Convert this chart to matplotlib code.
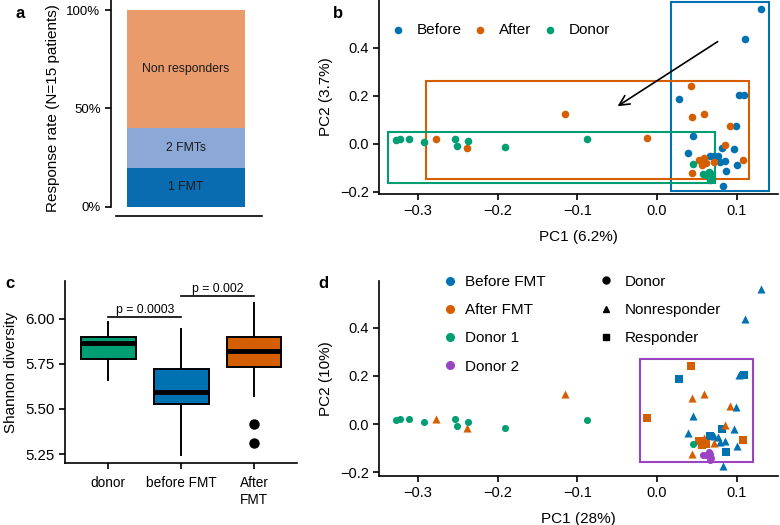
import numpy as np
import matplotlib
matplotlib.use("Agg")
from matplotlib import pyplot as plt
from matplotlib.patches import Rectangle
from matplotlib.lines import Line2D

plt.rcParams['font.family'] = ['Liberation Sans', 'DejaVu Sans']
plt.rcParams['axes.linewidth'] = 1.2
plt.rcParams['xtick.major.width'] = 1.2
plt.rcParams['ytick.major.width'] = 1.2
plt.rcParams['xtick.major.size'] = 4
plt.rcParams['ytick.major.size'] = 4

BLUE = '#0072B2'
ORANGE = '#D55E00'
GREEN = '#009E73'
PURPLE = '#9A44C4'

# --- panel a: response rate
resp_labels = ['1 FMT', '2 FMTs', 'Non responders']
resp_counts = [3, 3, 9]
resp_colors = ['#0A6CB0', '#8BA8D6', '#E99B6C']

# --- panel b/d: PCoA points (PC1, PC2)
before_x = [0.131, 0.110, 0.027, 0.103, 0.109, 0.099, 0.045, 0.039, 0.066,
            0.071, 0.076, 0.081, 0.096, 0.079, 0.085, 0.100, 0.087, 0.083]
before_y = [0.561, 0.435, 0.186, 0.202, 0.204, 0.072, 0.033, -0.038, -0.050,
            -0.050, -0.052, -0.019, -0.021, -0.076, -0.072, -0.090, -0.115, -0.176]
before_resp = ['N', 'N', 'R', 'N', 'R', 'N', 'N', 'N', 'R',
               'N', 'N', 'R', 'N', 'N', 'N', 'N', 'R', 'N']

after_x = [0.0425, 0.044, 0.059, 0.092, 0.085, -0.013, 0.059, 0.052,
           0.056, 0.062, 0.071, 0.108, 0.0435, -0.278, -0.238, -0.116]
after_y = [0.242, 0.110, 0.125, 0.074, -0.004, 0.023, -0.058, -0.070,
           -0.088, -0.082, -0.078, -0.068, -0.123, 0.019, -0.017, 0.125]
after_resp = ['R', 'N', 'N', 'N', 'N', 'R', 'N', 'R',
              'R', 'R', 'N', 'R', 'N', 'N', 'N', 'N']

donor1_x = [-0.3275, -0.3225, -0.311, -0.293, -0.253, -0.2505, -0.2375, -0.191, -0.088, 0.045]
donor1_y = [0.016, 0.021, 0.021, 0.008, 0.019, -0.009, 0.010, -0.015, 0.018, -0.084]

donor2_x = [0.058, 0.062, 0.066, 0.068, 0.065, 0.067]
donor2_y = [-0.128, -0.130, -0.124, -0.140, -0.118, -0.150]

# --- panel c: Shannon diversity box stats
box_names = ['donor', 'before FMT', 'After\nFMT']
box_colors = [GREEN, BLUE, ORANGE]
box_med = [5.862, 5.595, 5.821]
box_q1 = [5.775, 5.525, 5.733]
box_q3 = [5.895, 5.718, 5.899]
box_lo = [5.66, 5.245, 5.571]
box_hi = [5.98, 5.94, 6.083]
box_fliers = [[], [], [5.416, 5.309]]

fig = plt.figure(figsize=(7.8, 5.25), dpi=100)

# ================= a
ax_a = fig.add_axes([0.1423, 0.5886, 0.1937, 0.4114])
bottom = 0
for lab, cnt, col in zip(resp_labels, resp_counts, resp_colors):
    h = cnt / sum(resp_counts) * 100
    ax_a.bar(0.497, h, width=0.781, bottom=bottom, color=col)
    ax_a.text(0.497, bottom + h / 2, lab, ha='center', va='center', fontsize=8.8, color='#1a1a1a')
    bottom += h
ax_a.set_xlim(0, 1)
ax_a.set_ylim(-4.6, 105.1)
ax_a.set_yticks([0, 50, 100])
ax_a.set_yticklabels(['0%', '50%', '100%'], fontsize=9.5)
ax_a.set_xticks([])
ax_a.spines[['top', 'right']].set_visible(False)
ax_a.spines['bottom'].set_bounds(0.03, 1)
ax_a.spines['left'].set_bounds(0, 105.1)
ax_a.set_ylabel('Response rate (N=15 patients)', fontsize=11, labelpad=5)

# ================= b
ax_b = fig.add_axes([0.486, 0.6305, 0.5115, 0.3695])
ax_b.scatter(before_x, before_y, s=30, color=BLUE, label='Before', zorder=3, linewidths=0)
ax_b.scatter(after_x, after_y, s=30, color=ORANGE, label='After', zorder=3, linewidths=0)
ax_b.scatter(donor1_x + donor2_x, donor1_y + donor2_y, s=30, color=GREEN, label='Donor',
             zorder=3, linewidths=0)
ax_b.add_patch(Rectangle((0.018, -0.197), 0.123, 0.786, fill=False, ec=BLUE, lw=1.5))
ax_b.add_patch(Rectangle((-0.2895, -0.1486), 0.405, 0.4111, fill=False, ec=ORANGE, lw=1.5))
ax_b.add_patch(Rectangle((-0.338, -0.165), 0.4103, 0.215, fill=False, ec=GREEN, lw=1.5))
ax_b.annotate('', xy=(-0.0525, 0.15), xytext=(0.079, 0.432),
              arrowprops=dict(arrowstyle='->', lw=1.2, color='black', mutation_scale=18))
ax_b.set_xlim(-0.3488, 0.1518)
ax_b.set_ylim(-0.2096, 0.599)
ax_b.set_xticks([-0.3, -0.2, -0.1, 0.0, 0.1])
ax_b.set_yticks([-0.2, 0.0, 0.2, 0.4])
ax_b.tick_params(labelsize=10.5)
ax_b.spines[['top', 'right']].set_visible(False)
ax_b.set_xlabel('PC1 (6.2%)', fontsize=11, labelpad=8)
ax_b.set_ylabel('PC2 (3.7%)', fontsize=11, labelpad=5)
ax_b.legend(ncol=3, frameon=False, loc='center left', bbox_to_anchor=(0.0286, 0.845),
            borderpad=0, borderaxespad=0, handlelength=1, handletextpad=0.75,
            columnspacing=0.68, fontsize=11, scatterpoints=1)

# ================= c
ax_c = fig.add_axes([0.0833, 0.1175, 0.2977, 0.3478])
stats = []
for i in range(3):
    stats.append(dict(med=box_med[i], q1=box_q1[i], q3=box_q3[i],
                      whislo=box_lo[i], whishi=box_hi[i], fliers=box_fliers[i]))
bp = ax_c.bxp(stats, positions=[1, 2, 3], widths=0.75, showcaps=False, patch_artist=True,
              boxprops=dict(lw=1.4, edgecolor='black'),
              medianprops=dict(color='black', lw=3.5),
              whiskerprops=dict(lw=1.4, color='black'),
              flierprops=dict(marker='o', markerfacecolor='black', markeredgecolor='black',
                              markersize=6.5))
for patch, col in zip(bp['boxes'], box_colors):
    patch.set_facecolor(col)
ax_c.plot([1, 2], [6.006, 6.006], color='black', lw=1.2)
ax_c.plot([2, 3], [6.123, 6.123], color='black', lw=1.2)
ax_c.text(1.5, 6.012, 'p = 0.0003', ha='center', va='bottom', fontsize=8.8)
ax_c.text(2.5, 6.129, 'p = 0.002', ha='center', va='bottom', fontsize=8.8)
ax_c.set_xlim(0.407, 3.59)
ax_c.set_ylim(5.199, 6.209)
ax_c.set_yticks([5.25, 5.5, 5.75, 6.0])
ax_c.set_yticklabels(['5.25', '5.50', '5.75', '6.00'], fontsize=10.8)
ax_c.set_xticks([1, 2, 3])
ax_c.set_xticklabels(box_names, fontsize=9.8, linespacing=1.25)
ax_c.tick_params(axis='x', pad=5)
ax_c.spines[['top', 'right']].set_visible(False)
ax_c.set_ylabel('Shannon diversity', fontsize=11, labelpad=5)

# ================= d
ax_d = fig.add_axes([0.486, 0.0933, 0.5115, 0.372])
mk = {'N': '^', 'R': 's'}
for xs, ys, rs, col in [(before_x, before_y, before_resp, BLUE), (after_x, after_y, after_resp, ORANGE)]:
    for code in ['N', 'R']:
        px = [x for x, r in zip(xs, rs) if r == code]
        py = [y for y, r in zip(ys, rs) if r == code]
        ax_d.scatter(px, py, s=34 if code == 'N' else 26, marker=mk[code], color=col,
                     linewidths=0, zorder=3)
ax_d.scatter(donor1_x, donor1_y, s=26, color=GREEN, linewidths=0, zorder=3)
ax_d.scatter(donor2_x, donor2_y, s=26, color=PURPLE, linewidths=0, zorder=3)
ax_d.add_patch(Rectangle((-0.0218, -0.159), 0.1424, 0.429, fill=False, ec=PURPLE, lw=1.5))
ax_d.set_xlim(-0.3488, 0.1518)
ax_d.set_ylim(-0.216, 0.595)
ax_d.set_xticks([-0.3, -0.2, -0.1, 0.0, 0.1])
ax_d.set_yticks([-0.2, 0.0, 0.2, 0.4])
ax_d.tick_params(labelsize=10.5)
ax_d.spines[['top', 'right']].set_visible(False)
ax_d.set_xlabel('PC1 (28%)', fontsize=11, labelpad=8)
ax_d.set_ylabel('PC2 (10%)', fontsize=11, labelpad=5)

col_handles = [Line2D([], [], ls='', marker='o', color=c, markersize=5.5)
               for c in [BLUE, ORANGE, GREEN, PURPLE]]
leg1 = ax_d.legend(col_handles, ['Before FMT', 'After FMT', 'Donor 1', 'Donor 2'],
                   frameon=False, loc='center left', bbox_to_anchor=(0.159, 0.777),
                   borderpad=0, borderaxespad=0, handlelength=1, handletextpad=0.48,
                   labelspacing=0.93, fontsize=11)
ax_d.add_artist(leg1)
shp_handles = [Line2D([], [], ls='', marker=m, color='black', markersize=5)
               for m in ['o', '^', 's']]
ax_d.legend(shp_handles, ['Donor', 'Nonresponder', 'Responder'],
            frameon=False, loc='center left', bbox_to_anchor=(0.55, 0.85),
            borderpad=0, borderaxespad=0, handlelength=1, handletextpad=0.75,
            labelspacing=0.93, fontsize=11)

# panel letters
for lab, x, y in [('a', 15, 13), ('b', 333, 14), ('c', 5, 283), ('d', 318, 283)]:
    fig.text(x / 780, 1 - y / 525, lab, fontsize=12, fontweight='bold', ha='left', va='center')

fig.savefig('out.png', dpi=100)
